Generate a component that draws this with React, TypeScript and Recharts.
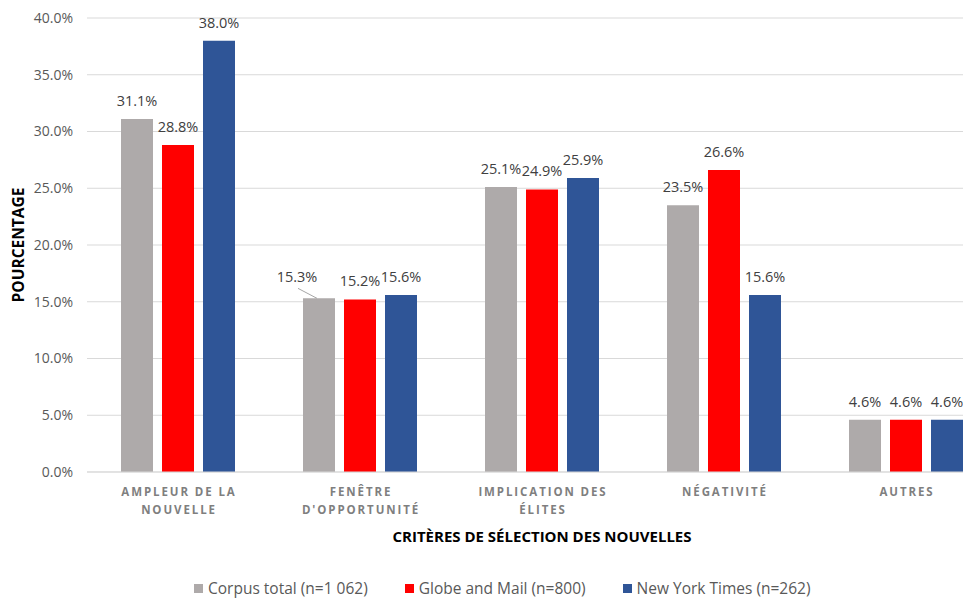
import React from 'react';
import { BarChart, Bar, XAxis, YAxis, CartesianGrid, LabelList } from 'recharts';

// Categories (x axis) — "\n" marks the line break inside a tick label
const categories = [
  'AMPLEUR DE LA\nNOUVELLE',
  "FENÊTRE\nD'OPPORTUNITÉ",
  'IMPLICATION DES\nÉLITES',
  'NÉGATIVITÉ',
  'AUTRES',
];

// Percentages per series
const corpusTotal = [31.1, 15.3, 25.1, 23.5, 4.6];
const globeAndMail = [28.8, 15.2, 24.9, 26.6, 4.6];
const newYorkTimes = [38.0, 15.6, 25.9, 15.6, 4.6];

const yTicks = [0, 5, 10, 15, 20, 25, 30, 35, 40];

const series = [
  { key: 'corpus', name: 'Corpus total (n=1 062)', color: '#AEAAAA', values: corpusTotal },
  { key: 'globe', name: 'Globe and Mail (n=800)', color: '#FF0000', values: globeAndMail },
  { key: 'nyt', name: 'New York Times (n=262)', color: '#2F5597', values: newYorkTimes },
];

const data = categories.map((c, i) => {
  const row: Record<string, any> = { category: c };
  series.forEach((s) => {
    row[s.key] = s.values[i];
  });
  return row;
});

const FONT = '"Open Sans", "Noto Sans", sans-serif';
const fmt = (v: number) => `${v.toFixed(1)}%`;

const XTick = (props: any) => {
  const { x, y, payload } = props;
  const lines = String(payload.value).split('\n');
  return (
    <g transform={`translate(${x},${y})`}>
      {lines.map((ln, i) => (
        <text
          key={i}
          x={1}
          y={0}
          dy={16 + i * 18}
          textAnchor="middle"
          fill="#7F7F7F"
          fontFamily={FONT}
          fontSize={11.5}
          fontWeight={700}
          letterSpacing={1.9}
        >
          {ln}
        </text>
      ))}
    </g>
  );
};

// Value label above each bar; the corpus label of the second group sits
// slightly to the left with a short leader line.
const makeLabel = (seriesKey: string) => (props: any) => {
  const { x, y, width, value, index } = props;
  const cx = x + width / 2;
  if (seriesKey === 'corpus' && index === 1) {
    const lx = cx - 22;
    const ly = y - 16;
    return (
      <g>
        <line x1={lx + 1} y1={ly + 6} x2={cx - 2} y2={y} stroke="#A6A6A6" strokeWidth={1} />
        <text x={lx} y={ly} textAnchor="middle" fill="#404040" fontFamily={FONT} fontSize={14.5}>
          {fmt(value)}
        </text>
      </g>
    );
  }
  return (
    <text x={cx} y={y - 13} textAnchor="middle" fill="#404040" fontFamily={FONT} fontSize={14.5}>
      {fmt(value)}
    </text>
  );
};

const YTitle = () => {
  const cx = 18;
  const cy = 245;
  return (
    <text
      x={cx}
      y={cy}
      transform={`rotate(-90, ${cx}, ${cy})`}
      textAnchor="middle"
      dominantBaseline="central"
      fill="#000000"
      fontFamily={FONT}
      fontSize={15.5}
      fontWeight={700}
    >
      POURCENTAGE
    </text>
  );
};

const XTitle = () => {
  return (
    <text
      x={542}
      y={542}
      textAnchor="middle"
      fill="#000000"
      fontFamily={FONT}
      fontSize={15}
      fontWeight={700}
    >
      CRITÈRES DE SÉLECTION DES NOUVELLES
    </text>
  );
};

export default function App() {
  return (
    <div
      style={{
        position: 'absolute',
        left: 0,
        top: 0,
        width: 963,
        height: 599,
        overflow: 'hidden',
        background: '#FFFFFF',
      }}
    >
      <BarChart
        width={1000}
        height={599}
        data={data}
        margin={{ top: 18, right: 3, bottom: 0, left: 0 }}
        barGap={9}
        barSize={32}
      >
        <CartesianGrid vertical={false} stroke="#D9D9D9" strokeWidth={1} />
        <XAxis
          dataKey="category"
          height={127}
          interval={0}
          tickLine={false}
          axisLine={{ stroke: '#D9D9D9', strokeWidth: 1 }}
          tick={<XTick />}
          label={<XTitle />}
        />
        <YAxis
          width={87}
          domain={[0, 40]}
          ticks={yTicks}
          tickFormatter={fmt}
          tickLine={false}
          axisLine={false}
          tickMargin={8}
          tick={{ fill: '#595959', fontSize: 14, fontFamily: FONT }}
          label={<YTitle />}
        />
        {series.map((s) => (
          <Bar key={s.key} dataKey={s.key} name={s.name} fill={s.color} isAnimationActive={false}>
            <LabelList dataKey={s.key} content={makeLabel(s.key)} />
          </Bar>
        ))}
      </BarChart>
      <div
        style={{
          position: 'absolute',
          left: 194,
          top: 577,
          display: 'flex',
          alignItems: 'center',
          fontFamily: FONT,
          fontSize: 15.5,
          color: '#595959',
          whiteSpace: 'nowrap',
        }}
      >
        {series.map((s, i) => (
          <div
            key={s.key}
            style={{ display: 'flex', alignItems: 'center', marginRight: i < series.length - 1 ? 37 : 0 }}
          >
            <span style={{ width: 9, height: 9, background: s.color, marginRight: 5, display: 'inline-block' }} />
            <span>{s.name}</span>
          </div>
        ))}
      </div>
    </div>
  );
}
